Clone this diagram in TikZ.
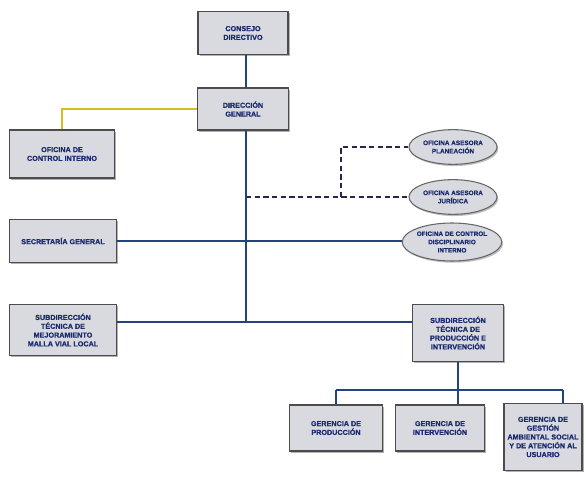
\documentclass[tikz,border=0pt]{standalone}
\usepackage{fontspec}
\newfontfamily\orgfont{Liberation Sans}[BoldFeatures={FakeBold=0.8}]
\usepackage{tikz}
\usetikzlibrary{shapes.geometric,shadows}
\definecolor{boxgray}{HTML}{D9DADF}
\definecolor{textnavy}{HTML}{1C2A6E}
\definecolor{linenavy}{HTML}{23437F}
\definecolor{lineyellow}{HTML}{D2BE1E}
\definecolor{dashnavy}{HTML}{2B2452}
\begin{document}
\begin{tikzpicture}
[x=0.75pt,y=-0.75pt,
  boxDecorate/.style={shape=rectangle,draw=black!70,thick,fill=boxgray,
    drop shadow={shadow xshift=1.3pt,shadow yshift=-1.3pt,fill=black!60},
    inner sep=1pt,align=center,text=textnavy,
    font=\orgfont\bfseries\fontsize{5.4}{6.6}\selectfont},%
  ovalDecorate/.style={shape=ellipse,draw=black!60,thick,fill=boxgray,
    drop shadow={shadow xshift=1pt,shadow yshift=-1.3pt,fill=black!50},
    inner sep=0pt,align=center,text=textnavy,
    font=\orgfont\bfseries\fontsize{4.8}{6.2}\selectfont},%
  lineDecorate/.style={-,draw=linenavy,line width=1.6pt},%
  yellowDecorate/.style={-,draw=lineyellow,line width=1.3pt},%
  dashDecorate/.style={-,draw=dashnavy,line width=1.5pt,dash pattern=on 4pt off 2.5pt}]
\useasboundingbox (0,0) rectangle (586,477);
%% boxes
\foreach \nodename/\x/\y/\w/\h/\txt in {
  consejo/243/33/67.5/32/{CONSEJO\\DIRECTIVO},
  direccion/243/109/68/31.5/{DIRECCIÓN\\GENERAL},
  control/62/154/79/36/{OFICINA DE\\CONTROL INTERNO},
  secretaria/63/241/80/32/{SECRETARÍA GENERAL},
  mejora/63/330/80/38/{SUBDIRECCIÓN\\TÉCNICA DE\\MEJORAMIENTO\\MALLA VIAL LOCAL},
  produccionSub/458/333/68/43/{SUBDIRECCIÓN\\TÉCNICA DE\\PRODUCCIÓN E\\INTERVENCIÓN},
  gerProd/336/428/70/34.5/{GERENCIA DE\\PRODUCCIÓN},
  gerInt/440/428/67/34.5/{GERENCIA DE\\INTERVENCIÓN},
  gerAmb/543/437/58.5/50/{GERENCIA DE\\GESTIÓN\\AMBIENTAL SOCIAL\\Y DE ATENCIÓN AL\\USUARIO}} {
  \node (\nodename) at (\x,\y) [boxDecorate,minimum width=\w pt,minimum height=\h pt] {\txt};
}
%% ovals
\foreach \nodename/\x/\y/\h/\txt in {
  planeacion/453/147/26/{OFICINA ASESORA\\PLANEACIÓN},
  juridica/453/197/26/{OFICINA ASESORA\\JURÍDICA},
  disciplinario/452/242/28.5/{OFICINA DE CONTROL\\DISCIPLINARIO\\INTERNO}} {
  \node (\nodename) at (\x,\y) [ovalDecorate,minimum width=66pt,minimum height=\h pt] {\txt};
}
%% junctions
\coordinate (jJur) at (246,197);
\coordinate (jPla) at (341,197);
\coordinate (jMej) at (246,322);
\coordinate (busL) at (336,390);
\coordinate (busR) at (563,390);
%% lines
\draw[yellowDecorate] (direccion.west) -| (control.north);
\draw[dashDecorate] (jJur) -- (juridica.west);
\draw[dashDecorate] (jPla) |- (planeacion.west);
\draw[lineDecorate] (consejo.south -| jMej) -- (direccion.north -| jMej);
\draw[lineDecorate] (direccion.south -| jMej) -- (jMej);
\draw[lineDecorate] (secretaria.east) -- (secretaria.east -| disciplinario.west);
\draw[lineDecorate] (mejora.east |- jMej) -- (produccionSub.west |- jMej);
\draw[lineDecorate] (produccionSub.south) -- (produccionSub.south |- busL);
\draw[lineDecorate] (busL) -- (busR);
\draw[lineDecorate] (busL) -- (gerProd.north);
\draw[lineDecorate] (produccionSub.south |- busL) -- (produccionSub.south |- gerInt.north);
\draw[lineDecorate] (busR) -- (busR |- gerAmb.north);
\end{tikzpicture}
\end{document}
